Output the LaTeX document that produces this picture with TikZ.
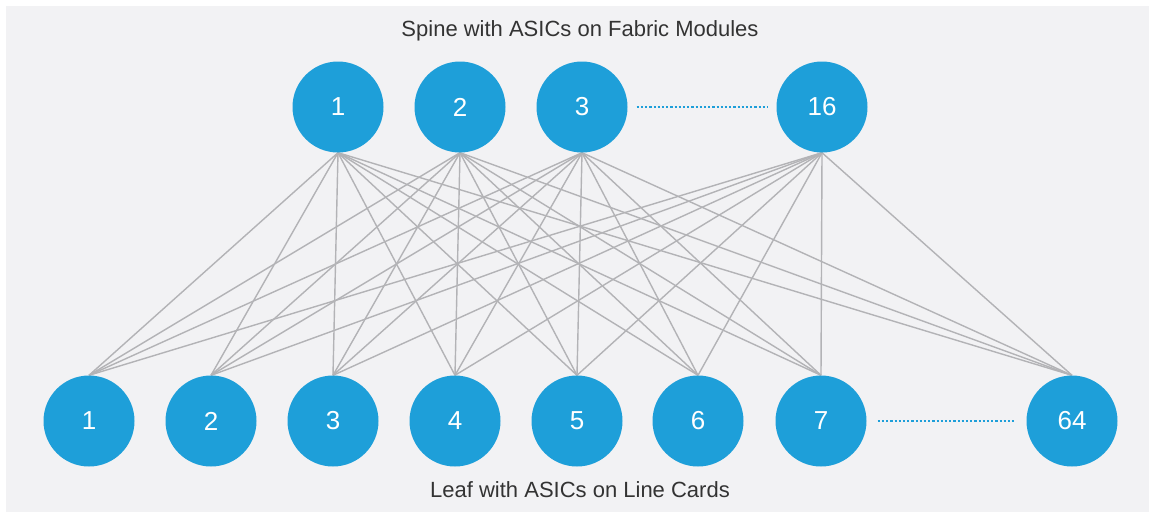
\documentclass[tikz,border=0pt]{standalone}
\usepackage{fontspec}
\setmainfont{Liberation Sans}
\usetikzlibrary{backgrounds}
\begin{document}
\begin{tikzpicture}[x=1pt,y=-1pt,
  asic/.style={circle,fill=asicblue,minimum size=91pt,inner sep=0pt,text=white,font=\fontsize{26}{30}\selectfont},
  link/.style={draw=linkgray,line width=1.4pt},
  more/.style={draw=asicblue,line width=2.2pt,dash pattern=on 2.2pt off 2pt},
  caption/.style={text=captext,font=\fontsize{22}{26}\selectfont}]
\definecolor{asicblue}{HTML}{1E9FD9}
\definecolor{linkgray}{HTML}{B3B3B6}
\definecolor{panel}{HTML}{F2F2F4}
\definecolor{captext}{HTML}{333333}
\useasboundingbox (0,0) rectangle (1149,512);

% spine ASICs
\node[asic] (s1)  at (338,107) {1};
\node[asic] (s2)  at (460,107) {2};
\node[asic] (s3)  at (582,107) {3};
\node[asic] (s16) at (822,107) {16};

% leaf ASICs
\node[asic] (l1)  at (89,421) {1};
\node[asic] (l2)  at (211,421) {2};
\node[asic] (l3)  at (333,421) {3};
\node[asic] (l4)  at (455,421) {4};
\node[asic] (l5)  at (577,421) {5};
\node[asic] (l6)  at (698,421) {6};
\node[asic] (l7)  at (821,421) {7};
\node[asic] (l64) at (1072,421) {64};

% ellipsis between the last shown ASICs
\draw[more] ([xshift=9pt]s3.east) -- ([xshift=-9pt]s16.west);
\draw[more] ([xshift=11pt]l7.east) -- ([xshift=-11pt]l64.west);

% captions
\node[caption] (top) at (580,31) {Spine with ASICs on Fabric Modules};
\node[caption] (bot) at (580,490) {Leaf with ASICs on Line Cards};

% panel and full mesh between spine and leaf, behind the ASICs
\begin{scope}[on background layer]
  \fill[white] (0,0) rectangle (1149,512);
  \fill[panel] (6,6) rectangle (1149,512);
  \foreach \s in {s1,s2,s3,s16}
    \foreach \l in {l1,l2,l3,l4,l5,l6,l7,l64}
      \draw[link] (\s.south) -- (\l.north);
\end{scope}
\end{tikzpicture}
\end{document}
